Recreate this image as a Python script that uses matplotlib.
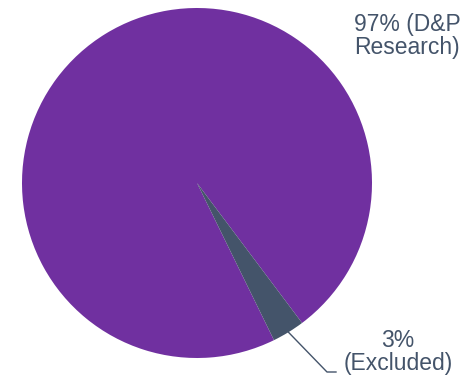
import numpy as np
import matplotlib.pyplot as plt

plt.rcParams['font.family'] = ['Liberation Sans', 'DejaVu Sans']

# data
labels = ['97% (D&P\nResearch)', '3%\n(Excluded)']
values = [97, 3]
colors = ['#7030A0', '#44546A']
text_color = '#44546A'

W, H = 467, 378
fig = plt.figure(figsize=(W / 100, H / 100), dpi=100)
ax = fig.add_axes([0, 0, 1, 1])
ax.set_xlim(0, W)
ax.set_ylim(0, H)
ax.set_aspect('equal')
ax.axis('off')

cx, cy, r = 197, H - 183, 175
start = -53.1
wedges, _ = ax.pie(values, colors=colors, startangle=start, counterclock=True,
                   center=(cx, cy), radius=r, frame=True,
                   wedgeprops=dict(linewidth=0))
ax.set_xlim(0, W)
ax.set_ylim(0, H)
ax.axis('off')

# label for big slice
ax.text(407, H - 36, labels[0], ha='center', va='center', fontsize=16.5,
        color=text_color, linespacing=1.0)

# label for small slice with leader line
w = wedges[1]
mid = np.deg2rad((w.theta1 + w.theta2) / 2)
px, py = cx + r * np.cos(mid), cy + r * np.sin(mid)
ax.plot([px, 327, 336], [py, H - 372, H - 372], color=text_color, lw=1)
ax.text(398, H - 352, labels[1], ha='center', va='center', fontsize=16.5,
        color=text_color, linespacing=1.0)

fig.savefig('out.png', dpi=100)
